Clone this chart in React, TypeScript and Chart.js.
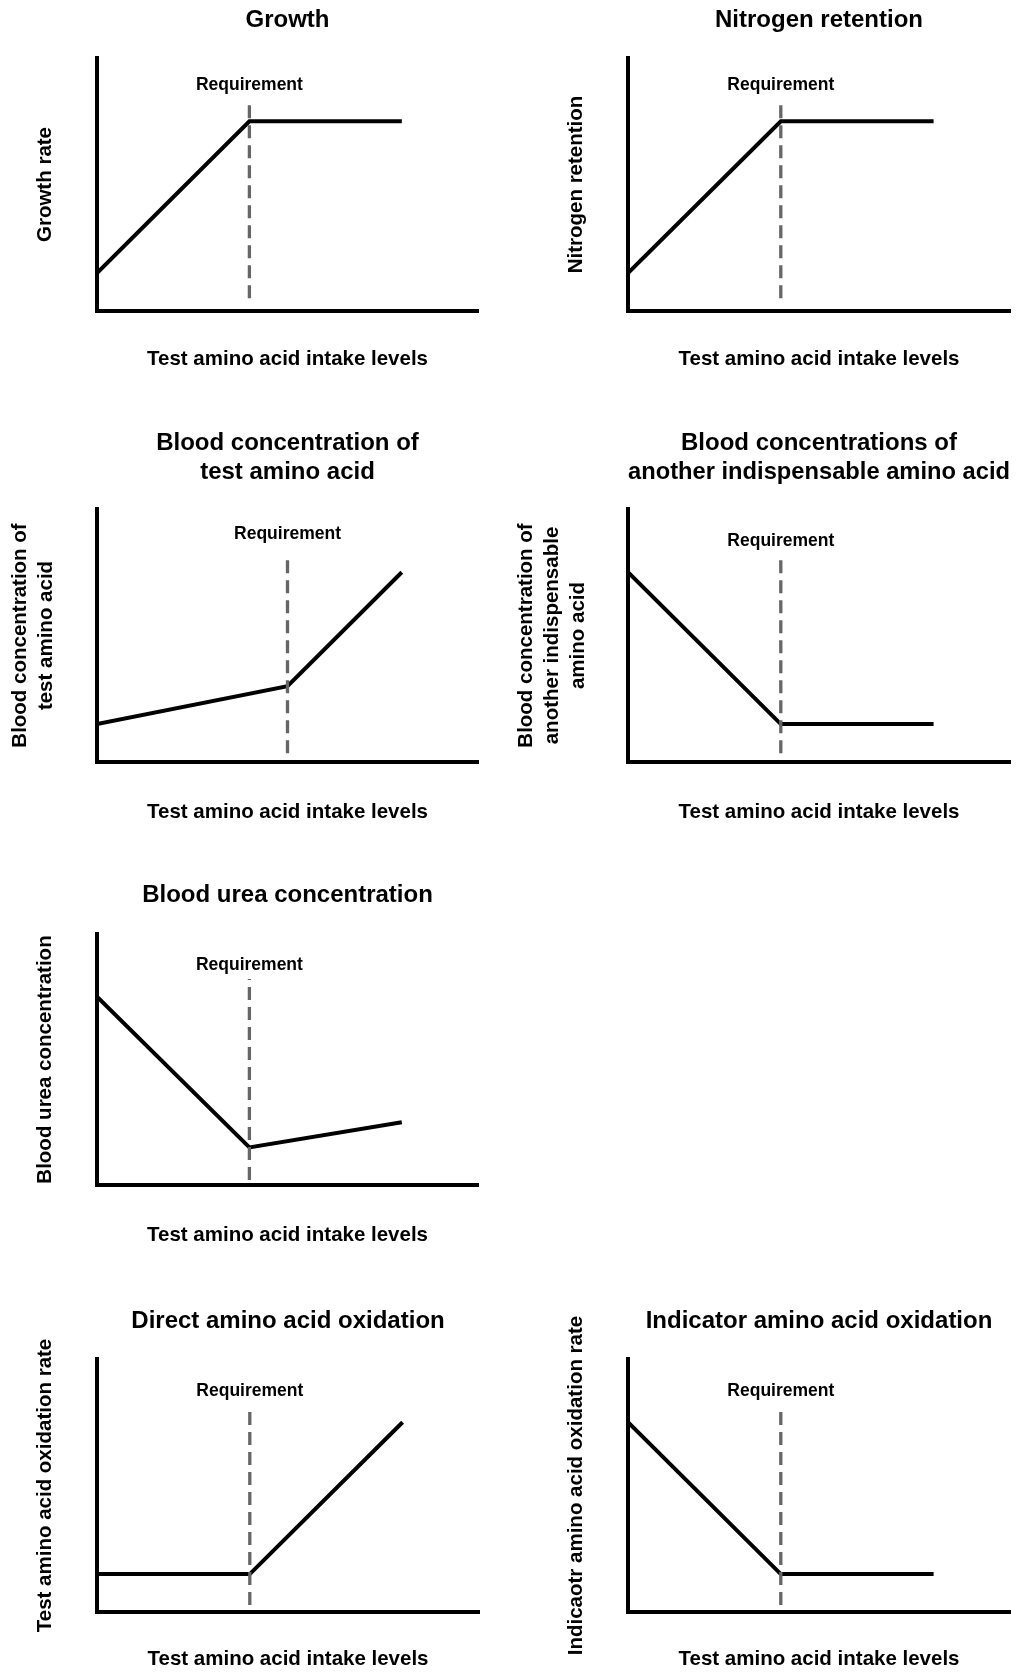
import React, { useEffect, useRef } from "react";
import { Chart, registerables } from "chart.js";

Chart.register(...registerables);

const FONT = "'Liberation Sans', Arial, Helvetica, sans-serif";

// ---------- data ----------
const xAxisTitle = "Test amino acid intake levels";
const requirementText = "Requirement";

const panelTitles: string[][] = [
  ["Growth"],
  ["Nitrogen retention"],
  ["Blood concentration of", "test amino acid"],
  ["Blood concentrations of", "another indispensable amino acid"],
  ["Blood urea concentration"],
  ["Direct amino acid oxidation"],
  ["Indicator amino acid oxidation"],
];

const yAxisTitles: string[][] = [
  ["Growth rate"],
  ["Nitrogen retention"],
  ["Blood concentration of", "test amino acid"],
  ["Blood concentration of", "another indispensable", "amino acid"],
  ["Blood urea concentration"],
  ["Test amino acid oxidation rate"],
  ["Indicaotr amino acid oxidation rate"],
];

// intake level (x) and response (y) for each panel, 0-100 arbitrary units
const growthIntake = [0, 40, 80];
const growthRate = [15, 75, 75];

const nitrogenIntake = [0, 40, 80];
const nitrogenRetention = [15, 75, 75];

const bloodTestIntake = [0, 50, 80];
const bloodTestConc = [15, 30, 75];

const bloodOtherIntake = [0, 40, 80];
const bloodOtherConc = [75, 15, 15];

const ureaIntake = [0, 40, 80];
const ureaConc = [75, 15, 25];

const directIntake = [0, 40, 80];
const directOxidation = [15, 15, 75];

const indicatorIntake = [0, 40, 80];
const indicatorOxidation = [75, 15, 15];

const seriesX = [growthIntake, nitrogenIntake, bloodTestIntake, bloodOtherIntake, ureaIntake, directIntake, indicatorIntake];
const seriesY = [growthRate, nitrogenRetention, bloodTestConc, bloodOtherConc, ureaConc, directOxidation, indicatorOxidation];

// requirement (dashed) line: x position and vertical extent
const requirementIntake = [40, 40, 50, 40, 40, 40, 40];
const requirementLow = [5, 5, 3.5, 3.5, 2, 2.8, 2.8];
const requirementHigh = [84, 84, 82.3, 82.3, 82.1, 81.5, 81.5];

// ---------- layout (page pixels) ----------
const panelBoxes = [
  { left: 0, top: 0, width: 513, height: 390, areaL: 97, areaR: 478, areaT: 58, areaB: 311, titleY: 20, yTitleX: 45, xTitleY: 359, labelGap: 13 },
  { left: 513, top: 0, width: 513, height: 390, areaL: 628, areaR: 1010, areaT: 58, areaB: 311, titleY: 20, yTitleX: 576, xTitleY: 359, labelGap: 13 },
  { left: 0, top: 390, width: 513, height: 440, areaL: 97, areaR: 478, areaT: 509, areaB: 762, titleY: 443, yTitleX: 20, xTitleY: 812, labelGap: 20 },
  { left: 513, top: 390, width: 513, height: 440, areaL: 628, areaR: 1010, areaT: 509, areaB: 762, titleY: 443, yTitleX: 526, xTitleY: 812, labelGap: 13 },
  { left: 0, top: 830, width: 513, height: 430, areaL: 97, areaR: 478, areaT: 934, areaB: 1185, titleY: 895, yTitleX: 45, xTitleY: 1235, labelGap: 14 },
  { left: 0, top: 1260, width: 513, height: 413, areaL: 97, areaR: 479, areaT: 1359, areaB: 1612, titleY: 1321, yTitleX: 45, xTitleY: 1659, labelGap: 15 },
  { left: 513, top: 1260, width: 513, height: 413, areaL: 628, areaR: 1010, areaT: 1359, areaB: 1612, titleY: 1321, yTitleX: 576, xTitleY: 1659, labelGap: 15 },
];

const TITLE_SIZE = 24;
const TITLE_LH = 29;
const AXIS_SIZE = 20.5;
const AXIS_LH = 26;

const requirementLabelPlugin = {
  id: "requirementLabel",
  afterDatasetsDraw(chart: any, _args: any, opts: any) {
    const meta = chart.getDatasetMeta(0);
    if (!meta || meta.data.length < 2) return;
    const p = meta.data[1];
    const ctx = chart.ctx;
    ctx.save();
    ctx.font = `bold 17.5px ${FONT}`;
    ctx.fillStyle = "#000";
    ctx.textAlign = "center";
    ctx.textBaseline = "middle";
    ctx.fillText(opts.text, p.x, p.y - opts.gap);
    ctx.restore();
  },
};

function Panel({ idx }: { idx: number }) {
  const ref = useRef<HTMLCanvasElement | null>(null);
  const box = panelBoxes[idx];

  useEffect(() => {
    if (!ref.current) return;
    const titleLines = panelTitles[idx].length;
    const yLines = yAxisTitles[idx].length;
    const relT = box.areaT - box.top;
    const relB = box.areaB - box.top;
    const relL = box.areaL - box.left;
    const relR = box.areaR - box.left;

    const titlePadTop = box.titleY - box.top - TITLE_LH / 2;
    const titlePadBottom = relT - titlePadTop - titleLines * TITLE_LH;
    const yPadTop = box.yTitleX - box.left - AXIS_LH / 2;
    const yPadBottom = relL - yPadTop - yLines * AXIS_LH;
    const xPadTop = box.xTitleY - box.areaB - AXIS_LH / 2;
    const layoutBottom = box.height - relB - xPadTop - AXIS_LH;
    const layoutRight = box.width - relR;

    const xs = seriesX[idx];
    const ys = seriesY[idx];
    const lineData = xs.map((x, i) => ({ x, y: ys[i] }));
    const reqData = [
      { x: requirementIntake[idx], y: requirementLow[idx] },
      { x: requirementIntake[idx], y: requirementHigh[idx] },
    ];

    const axisCommon = {
      type: "linear" as const,
      min: 0,
      max: 100,
      ticks: { display: false },
      grid: { display: false, drawTicks: false },
      border: { display: true, color: "#000", width: 4 },
    };

    const chart = new Chart(ref.current, {
      type: "line",
      data: {
        datasets: [
          {
            label: requirementText,
            data: reqData,
            borderColor: "#666666",
            borderWidth: 3.3,
            borderDash: [13, 7],
            pointRadius: 0,
            fill: false,
            tension: 0,
          },
          {
            label: panelTitles[idx].join(" "),
            data: lineData,
            borderColor: "#000",
            borderWidth: 4,
            pointRadius: 0,
            fill: false,
            tension: 0,
          },
        ],
      },
      options: {
        animation: false,
        responsive: false,
        maintainAspectRatio: false,
        devicePixelRatio: 1,
        layout: { padding: { top: 0, left: 0, right: layoutRight, bottom: layoutBottom } },
        plugins: {
          legend: { display: false },
          tooltip: { enabled: false },
          title: {
            display: true,
            text: panelTitles[idx],
            fullSize: false,
            color: "#000",
            font: { family: FONT, size: TITLE_SIZE, weight: "bold", lineHeight: `${TITLE_LH}px` },
            padding: { top: titlePadTop, bottom: titlePadBottom },
          },
          requirementLabel: { text: requirementText, gap: box.labelGap },
        } as any,
        scales: {
          x: {
            ...axisCommon,
            position: "bottom",
            title: {
              display: true,
              text: xAxisTitle,
              color: "#000",
              font: { family: FONT, size: AXIS_SIZE, weight: "bold", lineHeight: `${AXIS_LH}px` },
              padding: { top: xPadTop, bottom: 0 },
            },
          },
          y: {
            ...axisCommon,
            position: "left",
            title: {
              display: true,
              text: yAxisTitles[idx],
              color: "#000",
              font: { family: FONT, size: AXIS_SIZE, weight: "bold", lineHeight: `${AXIS_LH}px` },
              padding: { top: yPadTop, bottom: yPadBottom },
            },
          },
        },
      } as any,
      plugins: [requirementLabelPlugin],
    });
    return () => chart.destroy();
  }, [idx]);

  return (
    <canvas
      ref={ref}
      width={box.width}
      height={box.height}
      style={{ position: "absolute", left: box.left, top: box.top, width: box.width, height: box.height }}
    />
  );
}

export default function App() {
  return (
    <div
      style={{
        position: "absolute",
        left: 0,
        top: 0,
        width: 1026,
        height: 1673,
        overflow: "hidden",
        background: "#fff",
      }}
    >
      {panelBoxes.map((_, i) => (
        <Panel key={i} idx={i} />
      ))}
    </div>
  );
}
